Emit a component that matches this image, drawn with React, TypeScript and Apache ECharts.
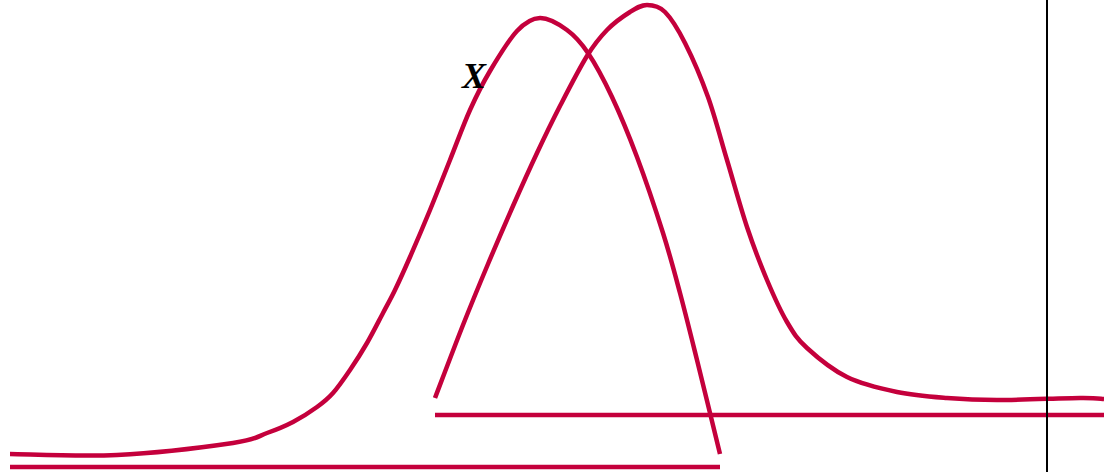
import React, { useEffect, useRef } from "react";
import * as echarts from "echarts";

// Curve A (left bell) : x positions and heights
const curveAX = [10, 117, 233, 267, 293, 317, 333, 350, 367, 383, 395, 410, 430, 450, 470, 490, 517, 540, 567, 588, 612, 637, 663, 680, 697, 720];
const curveAY = [18, 17, 29, 39, 50, 65, 79, 102, 129, 159, 182, 215, 262, 312, 362, 401, 441, 454, 442, 419, 375, 315, 239, 179, 112, 18];

// Curve B (right bell)
const curveBX = [435, 463, 488, 513, 537, 560, 587, 607, 630, 647, 665, 685, 708, 727, 747, 767, 787, 807, 847, 897, 947, 997, 1080, 1104];
const curveBY = [74, 147, 208, 266, 319, 366, 416, 442, 460, 467, 460, 429, 375, 312, 245, 192, 150, 124, 95, 80, 74, 72, 74, 73];

// Baselines
const baseAX = [10, 720];
const baseAY = [5, 5];
const baseBX = [435, 1104];
const baseBY = [57, 57];

// Vertical marker
const markerX = 1047;
const markerYRange = [0, 472];

// Label
const labelText = "X";
const labelPos = [474, 396];

const CRIMSON = "#C4003C";

const zip = (xs: number[], ys: number[]) => xs.map((x, i) => [x, ys[i]]);

function splinePath(pts: number[][]): string {
  let d = `M${pts[0][0]},${pts[0][1]}`;
  for (let i = 0; i < pts.length - 1; i++) {
    const p0 = pts[i - 1] || pts[i];
    const p1 = pts[i];
    const p2 = pts[i + 1];
    const p3 = pts[i + 2] || p2;
    const c1x = p1[0] + (p2[0] - p0[0]) / 6;
    const c1y = p1[1] + (p2[1] - p0[1]) / 6;
    const c2x = p2[0] - (p3[0] - p1[0]) / 6;
    const c2y = p2[1] - (p3[1] - p1[1]) / 6;
    d += ` C${c1x},${c1y} ${c2x},${c2y} ${p2[0]},${p2[1]}`;
  }
  return d;
}

function curveSeries(xs: number[], ys: number[]) {
  return {
    type: "custom",
    data: zip(xs, ys),
    encode: { x: 0, y: 1 },
    clip: false,
    silent: true,
    renderItem: (params: any, api: any) => {
      if (params.dataIndex !== 0) return { type: "group", children: [] };
      const pts = xs.map((x, i) => api.coord([x, ys[i]]));
      return {
        type: "path",
        shape: { pathData: splinePath(pts) },
        style: { stroke: CRIMSON, lineWidth: 4.5, fill: "none" },
      };
    },
  };
}

export default function App() {
  const ref = useRef<HTMLDivElement>(null);
  useEffect(() => {
    document.body.style.margin = "0";
    const chart = echarts.init(ref.current!, undefined, { renderer: "svg" });
    chart.setOption({
      animation: false,
      grid: { left: 0, right: 0, top: 0, bottom: 0 },
      xAxis: { type: "value", min: 0, max: 1104, show: false },
      yAxis: { type: "value", min: 0, max: 472, show: false },
      series: [
        curveSeries(curveAX, curveAY),
        curveSeries(curveBX, curveBY),
        {
          type: "line",
          data: zip(baseAX, baseAY),
          showSymbol: false,
          silent: true,
          lineStyle: { color: CRIMSON, width: 4.5, cap: "butt" },
        },
        {
          type: "line",
          data: zip(baseBX, baseBY),
          showSymbol: false,
          silent: true,
          lineStyle: { color: CRIMSON, width: 4.5, cap: "butt" },
        },
        {
          type: "line",
          data: markerYRange.map((y) => [markerX, y]),
          showSymbol: false,
          silent: true,
          lineStyle: { color: "#000000", width: 2 },
        },
        {
          type: "custom",
          data: [labelPos],
          encode: { x: 0, y: 1 },
          silent: true,
          renderItem: (_params: any, api: any) => {
            const p = api.coord(labelPos);
            return {
              type: "text",
              x: p[0],
              y: p[1],
              style: {
                text: labelText,
                fill: "#000000",
                fontFamily: "'Liberation Serif', serif",
                fontWeight: "bold",
                fontStyle: "italic",
                fontSize: 36,
                align: "center",
                verticalAlign: "middle",
              },
            };
          },
        },
      ],
    });
    return () => chart.dispose();
  }, []);
  return <div ref={ref} style={{ width: 1104, height: 472 }} />;
}
